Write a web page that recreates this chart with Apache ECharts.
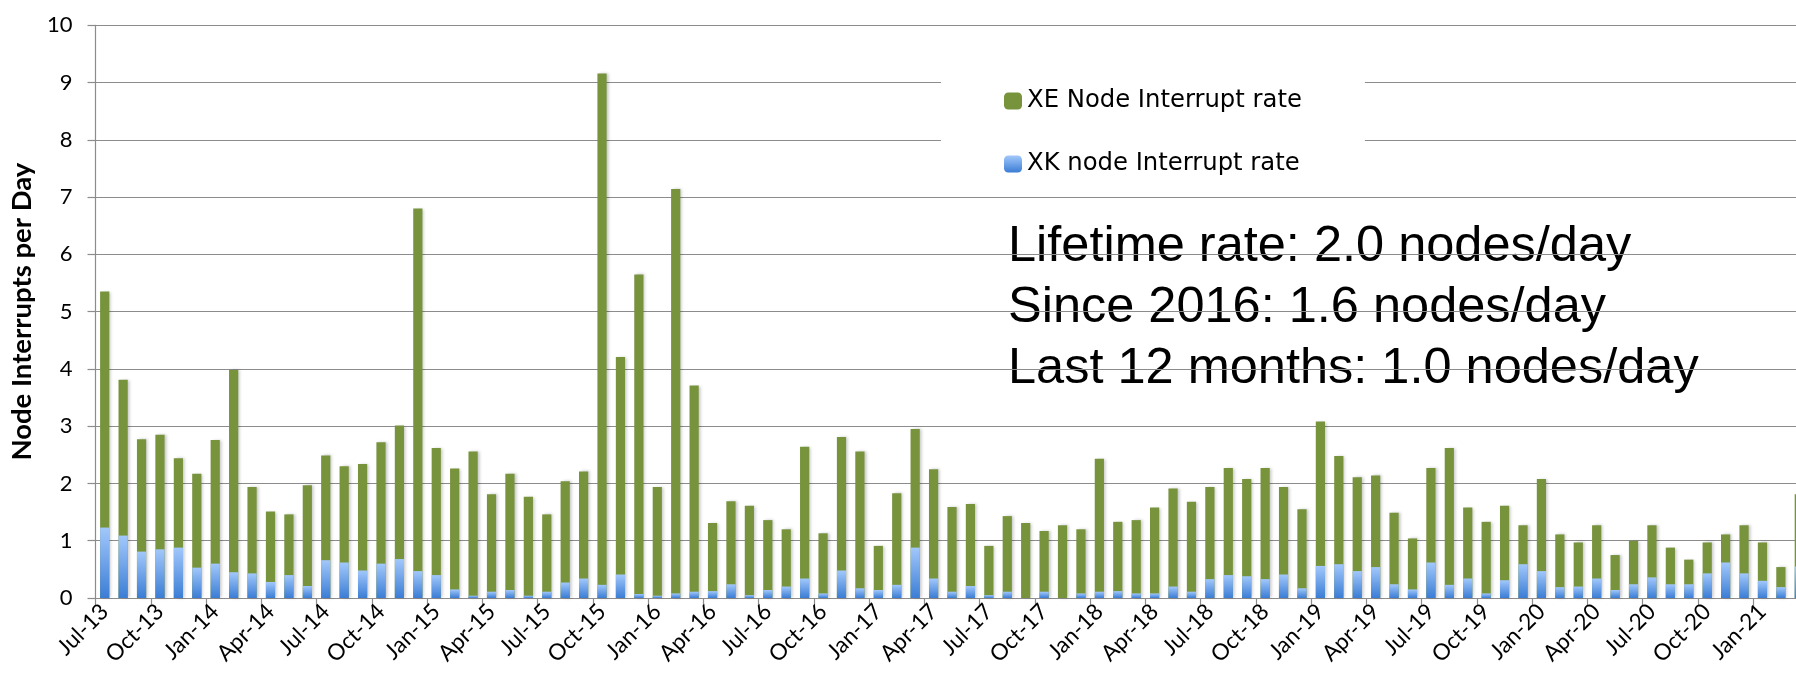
<!DOCTYPE html>
<html>
<head>
<meta charset="utf-8">
<script src="https://cdn.jsdelivr.net/npm/echarts@6/dist/echarts.min.js"></script>
<style>
html,body{margin:0;padding:0;background:#fff;}
#chart{width:1796px;height:684px;}
</style>
</head>
<body>
<div id="chart"></div>
<script>
const months = [
  'Jul-13','Aug-13','Sep-13','Oct-13','Nov-13','Dec-13',
  'Jan-14','Feb-14','Mar-14','Apr-14','May-14','Jun-14','Jul-14','Aug-14','Sep-14','Oct-14','Nov-14','Dec-14',
  'Jan-15','Feb-15','Mar-15','Apr-15','May-15','Jun-15','Jul-15','Aug-15','Sep-15','Oct-15','Nov-15','Dec-15',
  'Jan-16','Feb-16','Mar-16','Apr-16','May-16','Jun-16','Jul-16','Aug-16','Sep-16','Oct-16','Nov-16','Dec-16',
  'Jan-17','Feb-17','Mar-17','Apr-17','May-17','Jun-17','Jul-17','Aug-17','Sep-17','Oct-17','Nov-17','Dec-17',
  'Jan-18','Feb-18','Mar-18','Apr-18','May-18','Jun-18','Jul-18','Aug-18','Sep-18','Oct-18','Nov-18','Dec-18',
  'Jan-19','Feb-19','Mar-19','Apr-19','May-19','Jun-19','Jul-19','Aug-19','Sep-19','Oct-19','Nov-19','Dec-19',
  'Jan-20','Feb-20','Mar-20','Apr-20','May-20','Jun-20','Jul-20','Aug-20','Sep-20','Oct-20','Nov-20','Dec-20',
  'Jan-21','Feb-21','Mar-21'
];

// XE node interrupt rate (bar top, nodes/day)
const xeRate = [
  5.35,3.81,2.77,2.85,2.44,2.17,
  2.76,3.98,1.94,1.51,1.46,1.97,2.49,2.30,2.34,2.72,3.01,6.80,
  2.62,2.26,2.56,1.81,2.17,1.77,1.46,2.04,2.21,9.16,4.21,5.65,
  1.94,7.14,3.71,1.31,1.69,1.61,1.36,1.20,2.64,1.13,2.81,2.56,
  0.91,1.83,2.95,2.25,1.59,1.64,0.91,1.43,1.31,1.17,1.27,1.20,
  2.43,1.33,1.36,1.58,1.91,1.68,1.94,2.27,2.08,2.27,1.94,1.55,
  3.08,2.48,2.11,2.14,1.49,1.04,2.27,2.62,1.58,1.33,1.61,1.27,
  2.08,1.11,0.97,1.27,0.75,1.00,1.27,0.88,0.67,0.97,1.11,1.27,
  0.97,0.54,1.81
];

// XK node interrupt rate (nodes/day)
const xkRate = [
  1.23,1.09,0.81,0.85,0.88,0.53,
  0.60,0.45,0.43,0.28,0.40,0.21,0.66,0.62,0.48,0.60,0.68,0.47,
  0.40,0.15,0.04,0.11,0.14,0.04,0.11,0.27,0.34,0.23,0.41,0.07,
  0.04,0.08,0.11,0.12,0.24,0.05,0.14,0.20,0.34,0.08,0.48,0.17,
  0.14,0.23,0.88,0.34,0.11,0.21,0.05,0.11,0.00,0.11,0.00,0.08,
  0.11,0.12,0.08,0.08,0.20,0.11,0.33,0.40,0.38,0.33,0.41,0.17,
  0.56,0.59,0.47,0.54,0.24,0.15,0.62,0.23,0.34,0.08,0.31,0.59,
  0.47,0.19,0.20,0.34,0.14,0.24,0.36,0.24,0.24,0.43,0.62,0.43,
  0.30,0.19,0.55
];

const seriesNames = ['XE Node Interrupt rate', 'XK node Interrupt rate'];
const yAxisTitle = 'Node Interrupts per Day';
const noteLines = [
  'Lifetime rate: 2.0 nodes/day',
  'Since 2016: 1.6 nodes/day',
  'Last 12 months: 1.0 nodes/day'
];

const chart = echarts.init(document.getElementById('chart'), null, {renderer: 'canvas'});

const gray = '#8c8c8c';
const blueGrad = new echarts.graphic.LinearGradient(0, 0, 0, 1, [
  {offset: 0, color: '#a2c8fb'},
  {offset: 1, color: '#3b7dd5'}
]);
const noteFont = '50.5px "Liberation Sans", Arial, sans-serif';

chart.setOption({
  animation: false,
  backgroundColor: '#ffffff',
  grid: {left: 95.5, top: 25.3, width: 1713, bottom: 86, containLabel: false, outerBoundsMode: 'none'},
  legend: {
    orient: 'vertical',
    left: 941,
    top: 60,
    padding: [29, 63, 13, 63],
    itemGap: 39,
    itemWidth: 18,
    itemHeight: 17,
    backgroundColor: '#ffffff',
    textStyle: {fontFamily: 'DejaVu Sans', fontSize: 24.3, color: '#000'},
    data: seriesNames
  },
  xAxis: {
    type: 'category',
    data: months,
    boundaryGap: true,
    axisLine: {show: true, lineStyle: {color: gray, width: 1.2}},
    axisTick: {show: true, interval: 2, length: 8, lineStyle: {color: gray, width: 1.2}},
    axisLabel: {
      interval: 2, rotate: 45, margin: 10,
      fontFamily: 'Lato', fontSize: 22.5, color: '#000'
    },
    splitLine: {show: false}
  },
  yAxis: {
    type: 'value',
    min: 0, max: 10, interval: 1,
    name: yAxisTitle,
    nameLocation: 'middle',
    nameGap: 57,
    nameTextStyle: {fontFamily: 'Lato', fontWeight: 'bold', fontSize: 27.5, color: '#000'},
    axisLine: {show: true, lineStyle: {color: gray, width: 1.2}},
    axisTick: {show: true, inside: false, length: 8, lineStyle: {color: gray, width: 1.2}},
    axisLabel: {margin: 23, fontFamily: 'Lato', fontSize: 22, color: '#000'},
    splitLine: {show: true, lineStyle: {color: gray, width: 1.2}}
  },
  series: [
    {
      name: seriesNames[0],
      type: 'bar',
      data: xeRate,
      barWidth: '50%',
      barGap: '-100%',
      itemStyle: {color: '#77933c', shadowColor: 'rgba(0,0,0,0.22)', shadowBlur: 3, shadowOffsetX: 2}
    },
    {
      name: seriesNames[1],
      type: 'bar',
      data: xkRate,
      barWidth: '50%',
      barGap: '-100%',
      itemStyle: {color: blueGrad}
    }
  ],
  graphic: [
    {
      type: 'group',
      z: 100,
      children: [
        {type: 'rect', shape: {x: 991, y: 214, width: 735, height: 192}, style: {fill: '#ffffff'}},
        {type: 'text', x: 1008, y: 247, style: {text: noteLines[0], font: noteFont, fill: '#000', verticalAlign: 'middle'}},
        {type: 'text', x: 1008, y: 308, style: {text: noteLines[1], font: noteFont, fill: '#000', verticalAlign: 'middle'}},
        {type: 'text', x: 1008, y: 369, style: {text: noteLines[2], font: noteFont, fill: '#000', verticalAlign: 'middle'}}
      ]
    }
  ]
});
</script>
</body>
</html>
